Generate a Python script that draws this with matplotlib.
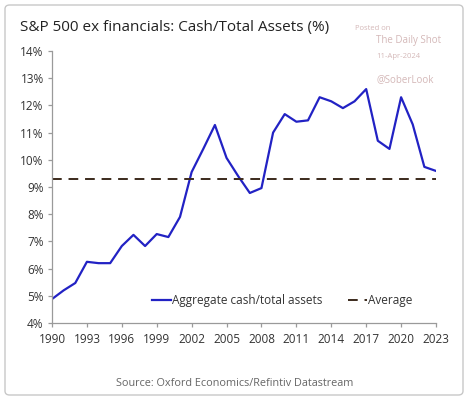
import numpy as np
import matplotlib.pyplot as plt
from matplotlib.patches import FancyBboxPatch
from matplotlib.ticker import FuncFormatter

# Data
years = list(range(1990, 2024))
cash_ratio = [4.88, 5.2, 5.47, 6.25, 6.2, 6.2, 6.83, 7.24, 6.83, 7.27,
              7.16, 7.9, 9.55, 10.4, 11.28, 10.07, 9.4, 8.78, 8.96, 11.0,
              11.68, 11.4, 11.45, 12.3, 12.15, 11.9, 12.15, 12.6, 10.7, 10.4,
              12.3, 11.3, 9.74, 9.59]
average = 9.29
x_ticks = list(range(1990, 2024, 3))
y_ticks = list(range(4, 15))

plt.rcParams['font.family'] = ['Open Sans', 'DejaVu Sans']

W, H = 469, 400
fig = plt.figure(figsize=(W / 100, H / 100), dpi=100)
fig.patch.set_facecolor('white')

# outer frame
frame = FancyBboxPatch((5 / W, 5 / H), 458 / W, 390 / H,
                       boxstyle='round,pad=0,rounding_size=0.01',
                       transform=fig.transFigure, facecolor='none',
                       edgecolor='#c8c8c8', linewidth=1.0)
fig.patches.append(frame)

ax = fig.add_axes([52 / W, 1 - 323 / H, (436 - 52) / W, (323 - 51) / H])

ax.plot(years, cash_ratio, color='#2222c4', linewidth=1.6,
        label='Aggregate cash/total assets')
ax.axhline(average, color='#3b2a1c', linewidth=1.4, linestyle=(0, (5, 3.5)),
           label='Average')

ax.set_xlim(1990, 2023)
ax.set_ylim(4, 14)
ax.set_xticks(x_ticks)
ax.set_yticks(y_ticks)
ax.yaxis.set_major_formatter(FuncFormatter(lambda v, p: f'{v:.0f}%'))

for s in ['top', 'right']:
    ax.spines[s].set_visible(False)
for s in ['left', 'bottom']:
    ax.spines[s].set_color('#9a9a9a')
    ax.spines[s].set_linewidth(0.9)
ax.tick_params(axis='both', colors='#9a9a9a', length=3, width=0.9,
               labelsize=8.5, labelcolor='#333333')
ax.tick_params(axis='x', pad=4)
ax.tick_params(axis='y', pad=3)

leg = ax.legend(loc='lower center', bbox_to_anchor=(0.6, 0.02), ncol=2,
                frameon=False, fontsize=8.5, handlelength=1.6,
                handletextpad=0.1, columnspacing=2.2)
for t in leg.get_texts():
    t.set_color('#333333')

fig.text(20 / W, 1 - 28 / H, 'S&P 500 ex financials: Cash/Total Assets (%)',
         fontsize=11, color='#222222', va='center', ha='left')

# watermark
wm = '#d4b8b8'
fig.text(355 / W, 1 - 28 / H, 'Posted on', fontsize=5.5, color=wm, va='center')
fig.text(376 / W, 1 - 41 / H, 'The Daily Shot', fontsize=7, color=wm, va='center')
fig.text(376 / W, 1 - 56 / H, '11-Apr-2024', fontsize=5.5, color=wm, va='center')
fig.text(376 / W, 1 - 80 / H, '@SoberLook', fontsize=7, color=wm, va='center')

fig.text(235 / W, 1 - 384 / H, 'Source: Oxford Economics/Refintiv Datastream',
         fontsize=7.8, color='#666666', ha='center', va='center')

fig.savefig('out.png', dpi=100)
